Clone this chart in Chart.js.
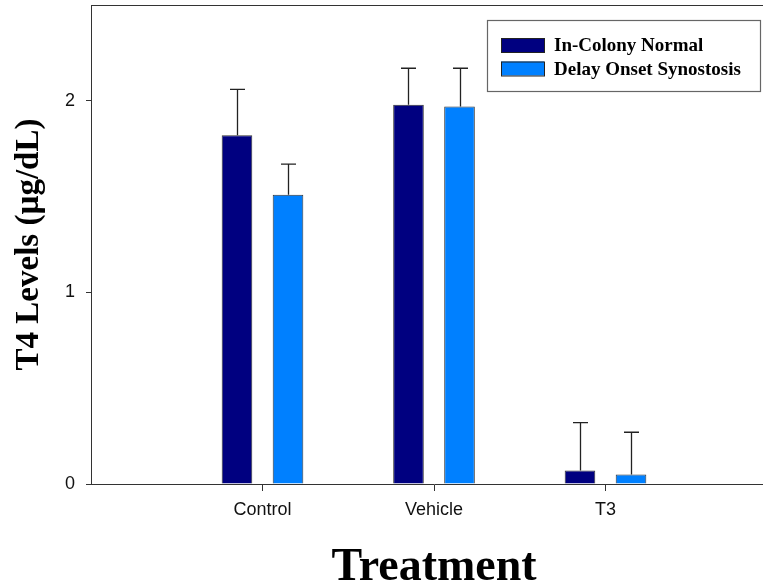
<!DOCTYPE html>
<html>
<head>
<meta charset="utf-8">
<script src="https://cdn.jsdelivr.net/npm/chart.js@4.4.0/dist/chart.umd.min.js"></script>
<style>
  html, body { margin: 0; padding: 0; background: #fff; overflow: hidden; }
  #wrap { width: 777px; height: 588px; }
</style>
</head>
<body>
<div id="wrap"><canvas id="c" width="777" height="588"></canvas></div>
<script>
// ---- data ----
const categories = ['Control', 'Vehicle', 'T3'];
const categoryPositions = [1, 2, 3];
const seriesNames = ['In-Colony Normal', 'Delay Onset Synostosis'];
const inColonyNormal = [1.82, 1.98, 0.07];
const inColonyNormalErr = [0.24, 0.19, 0.25];
const delayOnset = [1.51, 1.97, 0.05];
const delayOnsetErr = [0.16, 0.20, 0.22];
const yTicks = [0, 1, 2];

const colors = ['#000080', '#0080FF'];

function pts(vals) { return vals.map((v, i) => ({ x: categoryPositions[i], y: v })); }

const errorBars = {
  id: 'errorBars',
  afterDatasetsDraw(chart) {
    const ctx = chart.ctx;
    const ys = chart.scales.y;
    const errs = [inColonyNormalErr, delayOnsetErr];
    const vals = [inColonyNormal, delayOnset];
    ctx.save();
    ctx.strokeStyle = '#222';
    ctx.lineWidth = 1.3;
    chart.data.datasets.forEach((ds, di) => {
      const meta = chart.getDatasetMeta(di);
      meta.data.forEach((bar, j) => {
        const x = Math.round(bar.x) + 0.5;
        const yTop = ys.getPixelForValue(vals[di][j] + errs[di][j]);
        ctx.beginPath();
        ctx.moveTo(x, bar.y);
        ctx.lineTo(x, yTop);
        ctx.moveTo(x - 7.5, yTop);
        ctx.lineTo(x + 7.5, yTop);
        ctx.stroke();
      });
    });
    ctx.restore();
  }
};

const frameAndLegend = {
  id: 'frameAndLegend',
  afterDraw(chart) {
    const ctx = chart.ctx;
    const a = chart.chartArea;
    ctx.save();
    // top frame line
    ctx.strokeStyle = '#333';
    ctx.lineWidth = 1;
    ctx.beginPath();
    ctx.moveTo(a.left, a.top + 0.5);
    ctx.lineTo(a.right, a.top + 0.5);
    ctx.stroke();
    // legend box
    ctx.strokeStyle = '#666';
    ctx.lineWidth = 1.2;
    ctx.strokeRect(487.5, 20.5, 273, 71);
    ctx.font = 'bold 19px "Liberation Serif", "Times New Roman", serif';
    ctx.textBaseline = 'alphabetic';
    ctx.fillStyle = '#000';
    seriesNames.forEach((name, i) => {
      const yy = 38 + i * 23.5;
      ctx.fillStyle = colors[i];
      ctx.fillRect(501, yy, 43, 14);
      ctx.strokeStyle = '#222';
      ctx.lineWidth = 1;
      ctx.strokeRect(501.5, yy + 0.5, 43, 14);
      ctx.fillStyle = '#000';
      ctx.fillText(name, 554, yy + 13);
    });
    ctx.restore();
  }
};

new Chart(document.getElementById('c'), {
  type: 'bar',
  data: {
    datasets: [
      { label: seriesNames[0], data: pts(inColonyNormal), backgroundColor: colors[0], borderColor: '#333', borderWidth: 1 },
      { label: seriesNames[1], data: pts(delayOnset), backgroundColor: colors[1], borderColor: '#333', borderWidth: 1 }
    ]
  },
  options: {
    responsive: false,
    animation: false,
    categoryPercentage: 0.595,
    barPercentage: 0.6,
    layout: { padding: { top: 5, left: 0, right: 0, bottom: 0 } },
    plugins: { legend: { display: false }, tooltip: { enabled: false } },
    scales: {
      x: {
        type: 'linear',
        offset: false,
        min: 0,
        max: 4,
        afterBuildTicks(s) { s.ticks = categoryPositions.map(v => ({ value: v })); },
        afterFit(s) { s.height = 104; s.paddingLeft = 0; s.paddingRight = 0; },
        ticks: {
          callback: (v) => categories[categoryPositions.indexOf(v)] || '',
          color: '#111',
          font: { family: '"Liberation Sans", Arial, sans-serif', size: 18 },
          padding: 8,
          maxRotation: 0,
          autoSkip: false
        },
        grid: { display: true, offset: false, drawOnChartArea: false, drawTicks: true, tickLength: 7, color: '#333' },
        border: { display: true, color: '#333', width: 1 },
        title: {
          display: true,
          text: 'Treatment',
          color: '#000',
          font: { family: '"Liberation Serif", "Times New Roman", serif', size: 46, weight: 'bold', lineHeight: 0.87 },
          padding: { top: 0, bottom: 0 }
        }
      },
      y: {
        min: 0,
        max: 2.5,
        afterBuildTicks(s) { s.ticks = yTicks.map(v => ({ value: v })); },
        afterFit(s) { s.width = 91; s.paddingTop = 0; s.paddingBottom = 0; },
        ticks: {
          color: '#111',
          font: { family: '"Liberation Sans", Arial, sans-serif', size: 18 },
          padding: 11
        },
        grid: { display: true, drawOnChartArea: false, drawTicks: true, tickLength: 5, color: '#333' },
        border: { display: true, color: '#333', width: 1 },
        title: {
          display: true,
          text: 'T4 Levels (µg/dL)',
          color: '#000',
          font: { family: '"Liberation Serif", "Times New Roman", serif', size: 33, weight: 'bold', lineHeight: 1.2 },
          padding: { top: 10, bottom: 0 }
        }
      }
    }
  },
  plugins: [errorBars, frameAndLegend]
});
</script>
</body>
</html>
